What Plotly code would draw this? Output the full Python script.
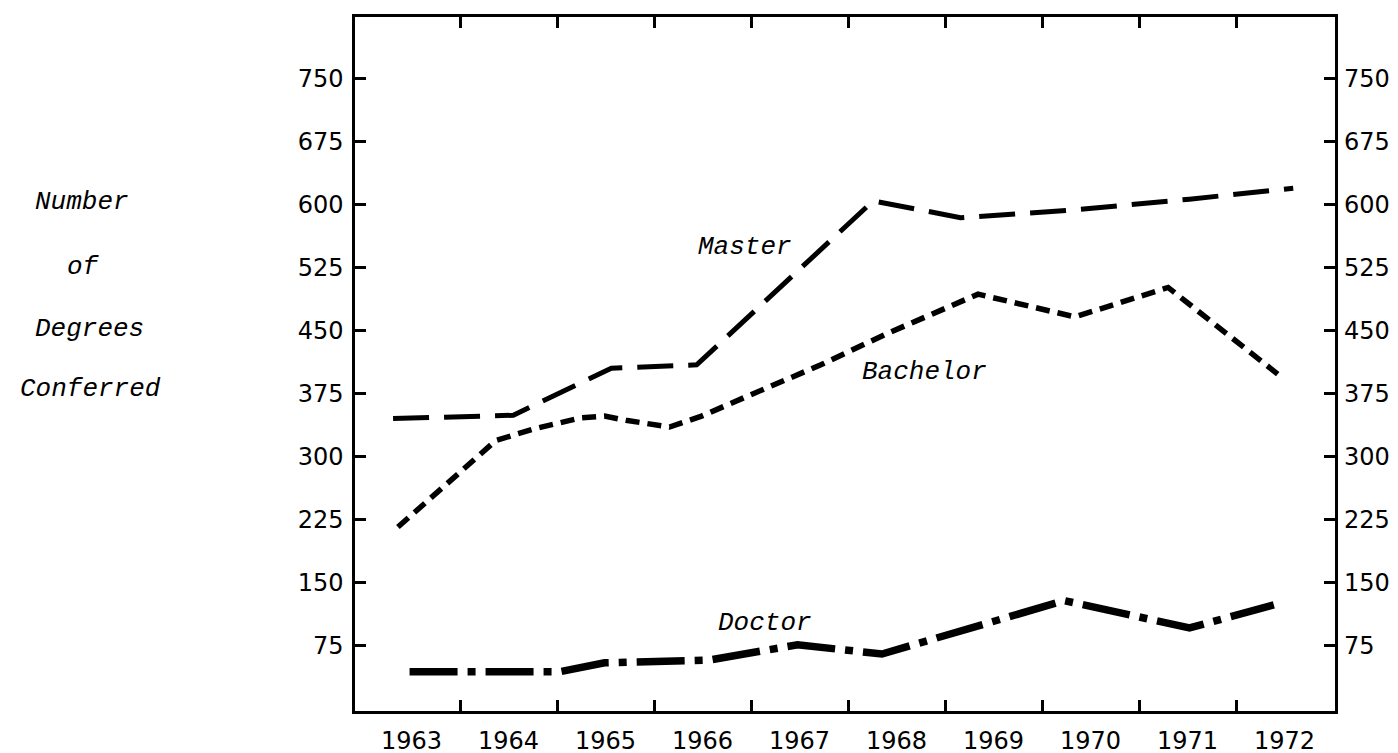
import plotly.graph_objects as go

# ---- data ----
years = [1963, 1964, 1965, 1966, 1967, 1968, 1969, 1970, 1971, 1972]
year_labels = ["1963", "1964", "1965", "1966", "1967", "1968", "1969", "1970", "1971", "1972"]
year_bounds = [1963.5, 1964.5, 1965.5, 1966.5, 1967.5, 1968.5, 1969.5, 1970.5, 1971.5]
y_ticks = [75, 150, 225, 300, 375, 450, 525, 600, 675, 750]

master_x = [1962.81, 1964.05, 1965.06, 1965.94, 1967.76, 1968.66, 1969.80, 1971.02, 1972.09]
master_y = [345, 349, 405, 409, 604, 584, 593, 606, 619]

bachelor_x = [1962.86, 1963.87, 1964.27, 1964.75, 1964.99, 1965.21, 1965.66, 1965.99,
              1966.47, 1967.22, 1967.88, 1968.84, 1969.84, 1970.80, 1971.93]
bachelor_y = [216, 319, 333, 346, 348, 343, 335, 348, 372, 409, 445, 493, 466, 501, 398]

doctor_x = [1962.98, 1964.53, 1964.99, 1965.78, 1966.06, 1966.98, 1967.85, 1969.73, 1971.02, 1971.89]
doctor_y = [44, 44, 54.5, 57.6, 57.6, 76, 65, 128.5, 96, 123.5]

# ---- layout geometry (pixels) ----
W, H = 1398, 753
L, R, T, B = 347, 1327, 6.5, 717
X_RANGE = [1962.4175, 1972.5206]
Y_RANGE = [-2.8, 822.7]


def px(x):
    return (x - L) / (R - L)


def py(y):
    return 1 - (y - T) / (B - T)


mono = dict(family="Liberation Mono, Courier New, monospace", size=26, color="black", style="italic")
tickfont = dict(family="DejaVu Sans, sans-serif", size=24, color="black")

fig = go.Figure()
fig.add_trace(go.Scatter(x=master_x, y=master_y, mode="lines", name="Master",
                         line=dict(color="black", width=5, dash="36px,15px")))
fig.add_trace(go.Scatter(x=bachelor_x, y=bachelor_y, mode="lines", name="Bachelor",
                         line=dict(color="black", width=5.5, dash="14px,8px")))
fig.add_trace(go.Scatter(x=doctor_x, y=doctor_y, mode="lines", name="Doctor", yaxis="y2",
                         line=dict(color="black", width=7.5, dash="48px,10px,8px,10px")))

annotations = []
for text, xl, yc in [("Number", 25, 196), ("of", 57, 262), ("Degrees", 25, 326),
                     ("Conferred", 10, 387), ("Master", 688, 242), ("Bachelor", 852, 370),
                     ("Doctor", 708, 627)]:
    annotations.append(dict(text=text, xref="paper", yref="paper", x=px(xl), y=py(yc),
                            xanchor="left", yanchor="middle", showarrow=False, font=mono))

fig.update_layout(
    width=W, height=H,
    margin=dict(l=L, r=W - R, t=T, b=H - B, pad=0),
    paper_bgcolor="white", plot_bgcolor="white",
    showlegend=False,
    annotations=annotations,
    xaxis=dict(range=X_RANGE, tickvals=years, ticktext=year_labels, ticks="",
               showgrid=False, zeroline=False, showline=True, linecolor="black", linewidth=2.5,
               mirror="ticks", tickfont=tickfont, ticklabelstandoff=6,
               minor=dict(tickvals=year_bounds, ticks="inside", ticklen=11, tickwidth=2.5,
                          tickcolor="black", showgrid=False)),
    yaxis=dict(range=Y_RANGE, tickvals=y_ticks, ticks="inside", ticklen=11, tickwidth=2.5,
               tickcolor="black", showgrid=False, zeroline=False, showline=True,
               linecolor="black", linewidth=2.5, mirror="ticks", tickfont=tickfont,
               ticklabelstandoff=4),
    yaxis2=dict(range=Y_RANGE, tickvals=y_ticks, overlaying="y", side="right", ticks="",
                showgrid=False, zeroline=False, showline=False, tickfont=tickfont,
                ticklabelstandoff=8),
)

fig.write_html("out.html")
